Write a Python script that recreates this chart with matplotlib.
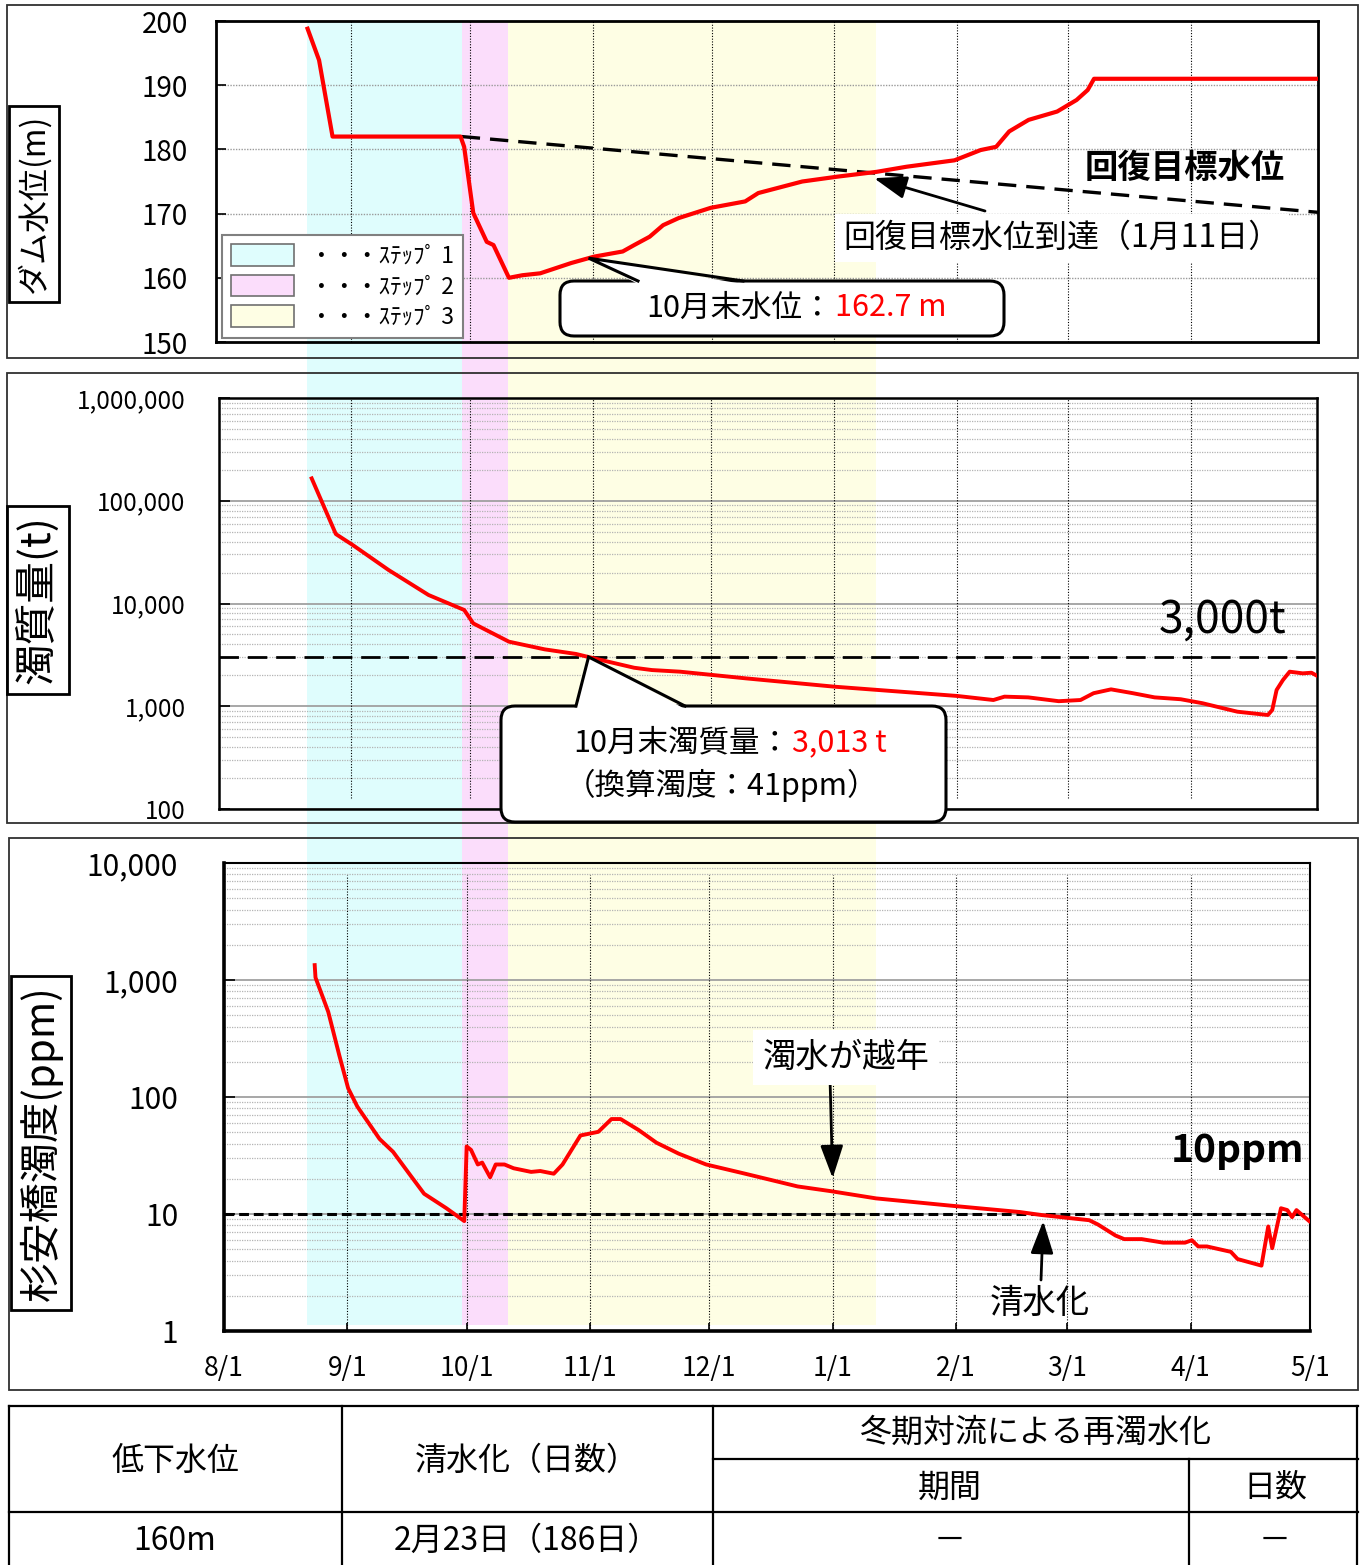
import numpy as np
import matplotlib
matplotlib.use('Agg')
import matplotlib.pyplot as plt
import matplotlib.transforms as mtransforms
from matplotlib.patches import Rectangle, FancyBboxPatch, Polygon, Patch
from matplotlib.lines import Line2D
from matplotlib.ticker import NullFormatter, FuncFormatter, LogLocator

plt.rcParams['font.family'] = ['Noto Sans CJK JP', 'DejaVu Sans']

W, H = 1363, 1565

# x axis = days since 8/1
month_days = [0, 31, 61, 92, 122, 153, 184, 212, 243, 273]
month_labels = ['8/1', '9/1', '10/1', '11/1', '12/1', '1/1', '2/1', '3/1', '4/1', '5/1']

# step periods (day ranges)
step_ranges = [(20.9, 59.8), (59.8, 71.4), (71.4, 163.9)]
step_colors = ['#DFFDFD', '#FBDDFB', '#FEFEE4']
step_labels = ['・・・ｽﾃｯﾌﾟ 1', '・・・ｽﾃｯﾌﾟ 2', '・・・ｽﾃｯﾌﾟ 3']

# dam water level (m)
wl_day = [20.1, 23.0, 26.4, 58.7, 59.6, 61.9, 65.3, 67.0, 70.9, 74.3, 78.8, 86.6, 92.4,
          99.6, 102.5, 106.4, 109.8, 113.7, 121.8, 130.5, 133.8, 144.9, 153.7, 163.6,
          171.2, 183.3, 189.9, 193.8, 197.1, 202.0, 209.2, 214.1, 216.9, 218.5, 275.0]
wl_val = [198.8, 193.9, 182.0, 182.0, 180.4, 170.1, 165.6, 165.1, 160.0, 160.4, 160.7,
          162.3, 163.3, 164.1, 165.1, 166.4, 168.2, 169.3, 170.9, 171.9, 173.2, 175.0,
          175.75, 176.5, 177.3, 178.3, 179.9, 180.4, 182.8, 184.6, 185.9, 187.7, 189.25,
          191.0, 191.0]
# recovery target level
tgt_day = [59.0, 275.0]
tgt_val = [182.0, 170.2]

# turbid mass (t)
tm_day = [21.1, 27.2, 31.5, 40.5, 50.6, 59.6, 61.9, 70.9, 79.9, 87.8, 92.3, 102.5, 107.0,
          114.1, 130.6, 153.1, 184.0, 193.2, 196.0, 202.0, 209.7, 215.2, 218.5, 222.9,
          228.4, 233.9, 240.5, 246.0, 254.8, 262.5, 263.6, 264.7, 266.3, 268.0, 271.3,
          273.5, 275.0]
tm_val = [165000, 47400, 37000, 21200, 12100, 8650, 6400, 4250, 3580, 3230, 2930, 2370,
          2250, 2170, 1870, 1550, 1260, 1150, 1240, 1220, 1120, 1150, 1340, 1460, 1340,
          1220, 1170, 1070, 885, 822, 920, 1440, 1800, 2170, 2090, 2120, 1970]

# turbidity at Sugiyasu bridge (ppm)
tb_day = [22.8, 23.0, 26.2, 29.0, 31.2, 33.5, 39.1, 42.5, 46.9, 50.3, 55.9, 60.4, 61.0,
          62.1, 63.8, 64.9, 66.9, 68.3, 70.5, 72.8, 77.2, 79.5, 82.9, 85.1, 89.6, 94.1,
          97.4, 99.7, 104.2, 108.7, 114.3, 121.2, 131.0, 144.2, 152.4, 163.9, 182.5,
          200.0, 205.5, 217.5, 219.7, 224.1, 226.3, 230.7, 236.1, 241.6, 243.3, 244.9,
          247.1, 253.1, 254.8, 260.8, 262.5, 263.5, 265.7, 267.3, 268.5, 269.6, 272.8]
tb_val = [1340, 1050, 535, 226, 119, 83, 43.8, 34, 21.3, 14.9, 11.2, 8.7, 37.8, 35.3,
          26.5, 27.5, 20.6, 26.5, 26.5, 24.6, 22.9, 23.3, 22.1, 26.5, 46.9, 50.4, 64.8,
          64.8, 52.3, 40.7, 32.8, 26.5, 22.1, 17.2, 15.7, 13.6, 11.8, 10.4, 9.8, 8.85,
          8.13, 6.55, 6.1, 6.1, 5.69, 5.69, 5.97, 5.28, 5.28, 4.75, 4.12, 3.62, 7.83,
          5.1, 11.2, 10.8, 9.4, 10.8, 8.7]

oct_end_day = 91
recover_day = 163   # 1/11
clear_day = 206     # 2/23
thr_mass = 3000
thr_ppm = 10

table_rows = [['160m', '2月23日（186日）', '－', '－']]

fig = plt.figure(figsize=(W / 100, H / 100), dpi=100)
# pixel coords measured from top-left
pix = mtransforms.Affine2D().scale(1 / W, -1 / H).translate(0, 1) + fig.transFigure


def add_ax(l, t, r, b):
    ax = fig.add_axes([l / W, 1 - b / H, (r - l) / W, (b - t) / H])
    ax.set_facecolor('none')
    return ax


# outer panel frames: white fill below the bands, border above them
for l, t, r, b in [(7, 5, 1358, 358), (7, 373, 1358, 823), (9, 838, 1358, 1390)]:
    fig.add_artist(Rectangle((l, t), r - l, b - t, transform=pix, fc='white',
                             ec='none', zorder=-3))
    fig.add_artist(Rectangle((l, t), r - l, b - t, transform=pix, fc='none',
                             ec='#303030', lw=1.3, zorder=-1))

ax1 = add_ax(216, 21, 1318, 342)
ax2 = add_ax(219, 398, 1317, 809)
ax3 = add_ax(224, 863, 1310, 1331)

ax1.set_xlim(-3.0, 275.0)
ax2.set_xlim(-2.3, 274.9)
ax3.set_xlim(0, 273)

# step bands across all panels
band = mtransforms.blended_transform_factory(ax3.transData, pix)
for (d0, d1), c in zip(step_ranges, step_colors):
    fig.add_artist(Rectangle((d0, 21), d1 - d0, 1325 - 21, transform=band, fc=c,
                             ec='none', zorder=-2))

vgrid = dict(color='black', lw=0.8, ls=(0, (1, 1.5)), zorder=1)
arrow = dict(arrowstyle='-|>,head_length=0.8,head_width=0.28', color='black', lw=2,
             shrinkA=0, mutation_scale=25)

# ---- panel 1 : water level
ax1.set_ylim(150, 200)
ax1.set_yticks(range(150, 201, 10))
ax1.set_xticks([])
for v in range(160, 200, 10):
    ax1.axhline(v, color='#9a9a9a', lw=1.0, ls=(0, (1, 1)), zorder=1)
for d in month_days[1:-1]:
    ax1.axvline(d, **vgrid)
ax1.plot(tgt_day, tgt_val, color='black', lw=2.4, dashes=(5.5, 3.0), zorder=4)
ax1.plot(wl_day, wl_val, color='#FF0000', lw=3.0, zorder=5, solid_joinstyle='round')
ax1.tick_params(axis='y', direction='in', length=7, width=1.2, pad=20, labelsize=20)
for s in ax1.spines.values():
    s.set_linewidth(2.0)
handles = [Patch(fc=c, ec='#707070', lw=1.2) for c in step_colors]
leg = ax1.legend(handles, step_labels, loc='lower left', bbox_to_anchor=(0.0054, 0.0125),
                 borderaxespad=0, fontsize=16.5, handlelength=2.75, handleheight=1.08,
                 labelspacing=0.3, handletextpad=0.7, borderpad=0.4, fancybox=False,
                 framealpha=1, edgecolor='#808080')
leg.get_frame().set_linewidth(1.5)
leg.set_zorder(10)

ax1.annotate('', xy=(recover_day, np.interp(recover_day, tgt_day, tgt_val) - 0.8),
             xytext=(985, 211), textcoords=pix,
             arrowprops=dict(shrinkB=0, **arrow), zorder=6)

# ---- panel 2 : turbid mass
ax2.set_yscale('log')
ax2.set_ylim(100, 1e6)
ax2.set_xticks([])
for d in month_days[1:-1]:
    ax2.axvline(d, ymin=0.027, ymax=1, **vgrid)
ax2.axhline(thr_mass, color='black', lw=2.0, dashes=(7, 3.2), zorder=4)
ax2.plot(tm_day, tm_val, color='#FF0000', lw=2.8, zorder=5, solid_joinstyle='round')

# ---- panel 3 : turbidity
ax3.set_yscale('log')
ax3.set_ylim(1, 10000)
for d in month_days[1:-1]:
    ax3.axvline(d, ymin=0, ymax=0.974, **vgrid)
ax3.axhline(thr_ppm, color='black', lw=2.2, dashes=(3.2, 1.6), zorder=4)
ax3.plot(tb_day, tb_val, color='#FF0000', lw=2.8, zorder=5, solid_joinstyle='round')
ax3.set_xticks(month_days)
ax3.set_xticklabels(month_labels)
ax3.tick_params(axis='x', direction='in', length=6, width=1.2, pad=17, labelsize=19)

fmt = FuncFormatter(lambda v, p: f'{v:,.0f}')
for ax, pad, size in [(ax2, 24, 17.5), (ax3, 33, 21.5)]:
    ax.yaxis.set_major_formatter(fmt)
    ax.yaxis.set_minor_locator(LogLocator(base=10, subs=np.arange(2, 10)))
    ax.yaxis.set_minor_formatter(NullFormatter())
    ax.tick_params(axis='y', which='major', direction='in', length=8, width=1.2,
                   pad=pad, labelsize=size)
    ax.tick_params(axis='y', which='minor', length=0)
    ax.grid(which='major', axis='y', color='#a0a0a0', lw=1.3, ls='-')
    ax.grid(which='minor', axis='y', color='#b4b4b4', lw=0.9, ls=(0, (1, 1)))
    ax.set_axisbelow(True)
for s in ax2.spines.values():
    s.set_linewidth(1.8)
for k, s in ax3.spines.items():
    s.set_linewidth(2.6 if k in ('left', 'bottom') else 1.5)

yday = np.interp(153, tb_day, tb_val)
ax3.annotate('', xy=(153, yday * 1.3), xytext=(830, 1078), textcoords=pix,
             arrowprops=dict(shrinkB=0, **arrow), zorder=6)
ax3.annotate('', xy=(clear_day, thr_ppm), xytext=(1041, 1280), textcoords=pix,
             arrowprops=dict(shrinkB=5, **arrow), zorder=6)


# ---- callouts
def callout(ax, tip, box, base, lw=2.2):
    x0, y0, x1, y1 = box
    tx, ty = pix.inverted().transform(ax.transData.transform(tip))
    fig.add_artist(FancyBboxPatch((x0, y0), x1 - x0, y1 - y0,
                                  boxstyle='round,pad=0,rounding_size=14', transform=pix,
                                  fc='white', ec='black', lw=lw, zorder=20))
    fig.add_artist(Polygon([(base[0], y0 + 3), (tx, ty), (base[1], y0 + 3)], closed=True,
                           transform=pix, fc='white', ec='none', zorder=21))
    fig.add_artist(Line2D([base[0], tx, base[1]], [y0, ty, y0], transform=pix,
                          color='black', lw=lw, zorder=22, solid_joinstyle='miter'))


callout(ax1, (oct_end_day, np.interp(oct_end_day, wl_day, wl_val)),
        (560, 281, 1004, 336), (638, 743))
callout(ax2, (oct_end_day, np.interp(oct_end_day, tm_day, tm_val)),
        (501, 706, 946, 822), (576, 685))

tk = dict(transform=pix, va='center', zorder=30)
fig.text(833, 308, '10月末水位：', ha='right', fontsize=22, **tk)
fig.text(835, 308, '162.7 m', ha='left', fontsize=22, color='#FF0000', **tk)
fig.text(790, 743, '10月末濁質量：', ha='right', fontsize=22, **tk)
fig.text(792, 743, '3,013 t', ha='left', fontsize=22, color='#FF0000', **tk)
fig.text(722, 785, '（換算濁度：41ppm）', ha='center', fontsize=22, **tk)

fig.text(1185, 168, '回復目標水位', ha='center', fontsize=24, fontweight='bold', **tk)
fig.text(1062, 238, '回復目標水位到達（1月11日）', ha='center', fontsize=23,
         bbox=dict(boxstyle='square,pad=0.25', fc='white', ec='none'), **tk)
fig.text(1223, 620, '3,000t', ha='center', fontsize=32, **tk)
fig.text(1238, 1150, '10ppm', ha='center', fontsize=28, fontweight='bold', **tk)
fig.text(846, 1057, '濁水が越年', ha='center', fontsize=24,
         bbox=dict(boxstyle='square,pad=0.3', fc='white', ec='none'), **tk)
fig.text(1040, 1303, '清水化', ha='center', fontsize=24, **tk)

# y-axis label boxes
lab = dict(transform=pix, ha='center', va='center', rotation=90, zorder=30)
fig.text(34, 204, 'ダム水位(m)', fontsize=23,
         bbox=dict(boxstyle='square,pad=0.25', fc='white', ec='black', lw=2), **lab)
fig.text(38, 600, '濁質量(t)', fontsize=30,
         bbox=dict(boxstyle='square,pad=0.22', fc='white', ec='black', lw=2), **lab)
fig.text(41, 1143, '杉安橋濁度(ppm)', fontsize=29,
         bbox=dict(boxstyle='square,pad=0.22', fc='white', ec='black', lw=2), **lab)

# ---- table
tl = dict(transform=pix, color='black', lw=1.6, zorder=5)
for y, x0, x1 in [(1406, 9, 1358), (1459, 713, 1358), (1512, 9, 1358)]:
    fig.add_artist(Line2D([x0, x1], [y, y], **tl))
for x, y0 in [(9, 1406), (342, 1406), (713, 1406), (1189, 1459), (1357, 1406)]:
    fig.add_artist(Line2D([x, x], [y0, 1565], **tl))

tt = dict(transform=pix, ha='center', va='center', fontsize=23)
fig.text(175, 1461, '低下水位', **tt)
fig.text(527, 1461, '清水化（日数）', **tt)
fig.text(1035, 1433, '冬期対流による再濁水化', **tt)
fig.text(950, 1488, '期間', **tt)
fig.text(1275, 1488, '日数', **tt)
for row in table_rows:
    for x, s in zip([175, 527, 950, 1275], row):
        fig.text(x, 1541, s, **tt)

fig.savefig('out.png', dpi=100)
